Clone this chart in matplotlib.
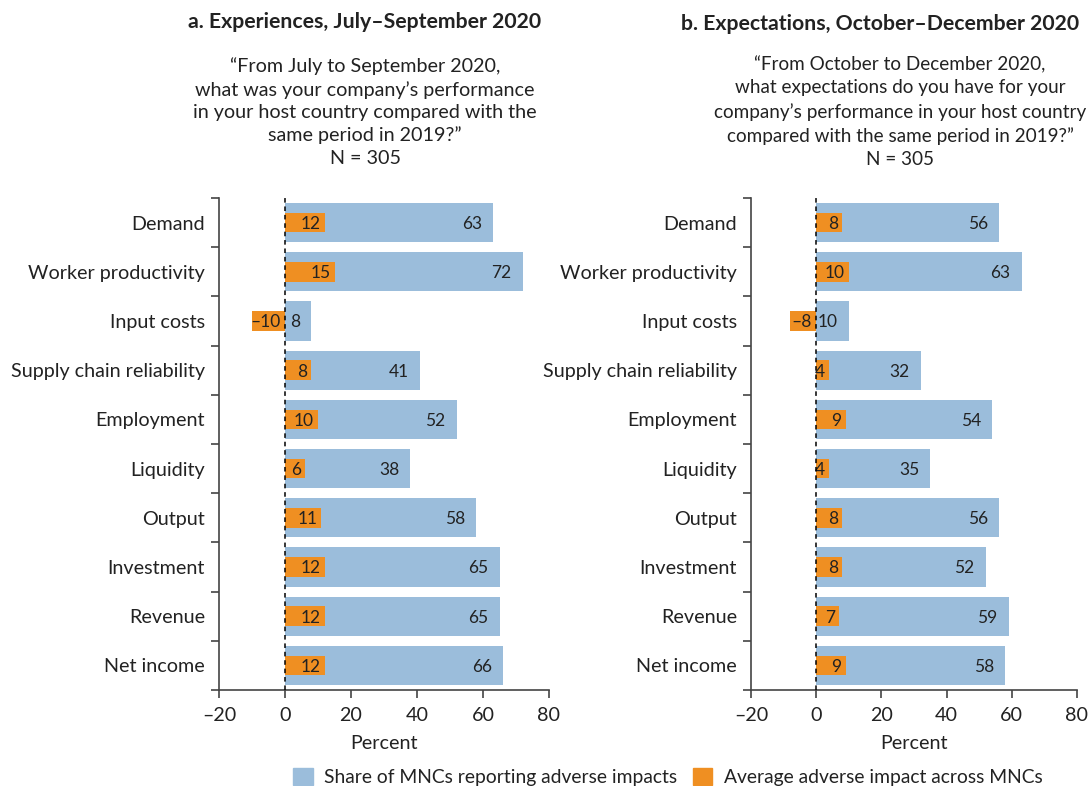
import numpy as np
import matplotlib.pyplot as plt
from matplotlib.patches import Patch
from matplotlib.ticker import FixedLocator, FuncFormatter

plt.rcParams['font.family'] = ['Lato', 'DejaVu Sans']

categories = ['Demand', 'Worker productivity', 'Input costs', 'Supply chain reliability',
              'Employment', 'Liquidity', 'Output', 'Investment', 'Revenue', 'Net income']

share_a = [63, 72, 8, 41, 52, 38, 58, 65, 65, 66]
avg_a = [12, 15, -10, 8, 10, 6, 11, 12, 12, 12]
share_b = [56, 63, 10, 32, 54, 35, 56, 52, 59, 58]
avg_b = [8, 10, -8, 4, 9, 4, 8, 8, 7, 9]

BLUE = '#9bbddb'
ORANGE = '#ef8f22'
TXT = '#222222'
FS = 14.2


def fmt(v):
    return ('\u2013%d' % -v) if v < 0 else '%d' % v


def draw_panel(ax, share, avg):
    y = np.arange(len(categories))
    ax.barh(y, share, height=0.8, color=BLUE, zorder=1)
    ax.barh(y, avg, height=0.4, color=ORANGE, zorder=2)
    for yi, s, a in zip(y, share, avg):
        ax.annotate(fmt(s), (s, yi), xytext=(-8, -1), textcoords='offset points',
                    ha='right', va='center', fontsize=12.5, color=TXT, zorder=3)
        ax.annotate(fmt(a), (max(a, 0), yi), xytext=(-3, -1), textcoords='offset points',
                    ha='right', va='center', fontsize=12.5, color=TXT, zorder=3)
    ax.axvline(0, color='black', ls=(0, (3, 2.5)), lw=1.1, zorder=4)
    ax.set_xlim(-20, 80)
    ax.set_ylim(len(categories) - 0.5, -0.5)
    ax.set_xticks([-20, 0, 20, 40, 60, 80])
    ax.xaxis.set_major_formatter(FuncFormatter(lambda v, p: fmt(int(v))))
    ax.yaxis.set_major_locator(FixedLocator(np.arange(-0.5, len(categories), 1)))
    ax.yaxis.set_major_formatter(FuncFormatter(lambda v, p: ''))
    ax.yaxis.set_minor_locator(FixedLocator(y))
    ax.set_yticklabels(categories, minor=True)
    ax.tick_params(axis='y', which='minor', length=0, pad=10, labelsize=FS, labelcolor=TXT)
    ax.tick_params(axis='y', which='major', length=6, width=1.2, color='#444444')
    ax.tick_params(axis='x', length=6, width=1.2, color='#444444', labelsize=FS,
                   labelcolor=TXT, pad=6)
    for side in ('top', 'right'):
        ax.spines[side].set_visible(False)
    for side in ('left', 'bottom'):
        ax.spines[side].set_linewidth(1.2)
        ax.spines[side].set_color('#444444')
    ax.set_xlabel('Percent', fontsize=FS, color=TXT, labelpad=8)


fig = plt.figure(figsize=(10.9, 7.86), dpi=100)
ax1 = fig.add_axes([219 / 1090, 96 / 786, 330 / 1090, 492 / 786])
ax2 = fig.add_axes([751 / 1090, 96 / 786, 326 / 1090, 492 / 786])
draw_panel(ax1, share_a, avg_a)
draw_panel(ax2, share_b, avg_b)

fig.text(365 / 1090, 1 - 22 / 786, 'a. Experiences, July\u2013September 2020',
         ha='center', va='center', fontsize=15.3, fontweight='bold', color=TXT)
fig.text(365 / 1090, 1 - 112 / 786,
         '\u201cFrom July to September 2020,\nwhat was your company\u2019s performance\n'
         'in your host country compared with the\nsame period in 2019?\u201d\nN = 305',
         ha='center', va='center', fontsize=FS, color=TXT, linespacing=1.38)
fig.text(880 / 1090, 1 - 24 / 786, 'b. Expectations, October\u2013December 2020',
         ha='center', va='center', fontsize=15.3, fontweight='bold', color=TXT)
fig.text(900 / 1090, 1 - 112 / 786,
         '\u201cFrom October to December 2020,\nwhat expectations do you have for your\n'
         'company\u2019s performance in your host country\ncompared with the same period in 2019?\u201d\nN = 305',
         ha='center', va='center', fontsize=13.6, color=TXT, linespacing=1.44)

handles = [Patch(color=BLUE, label='Share of MNCs reporting adverse impacts'),
           Patch(color=ORANGE, label='Average adverse impact across MNCs')]
fig.legend(handles=handles, loc='lower center', bbox_to_anchor=(668 / 1090, -0.022), ncol=2,
           frameon=False, fontsize=13.9, handlelength=1.0, handleheight=1.0,
           handletextpad=0.6, columnspacing=0.8, labelcolor=TXT)

fig.savefig('out.png', dpi=100)
